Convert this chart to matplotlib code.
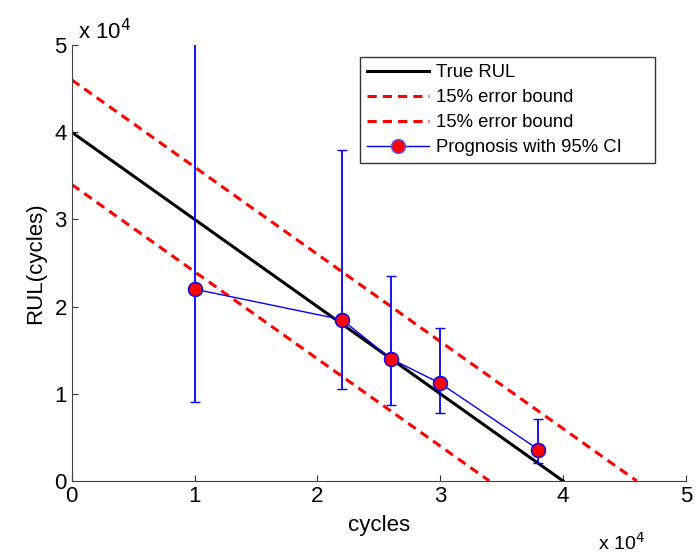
import matplotlib
matplotlib.use("Agg")
import matplotlib.pyplot as plt
from matplotlib.lines import Line2D
import numpy as np

plt.rcParams['font.family'] = ['Liberation Sans', 'DejaVu Sans']

# Data
true_x = [0, 40000]
true_y = [40000, 0]
upper_x = [0, 46000]
upper_y = [46000, 0]
lower_x = [0, 34000]
lower_y = [34000, 0]
prog_x = [10000, 22000, 26000, 30000, 38000]
prog_y = [22000, 18500, 14000, 11200, 3600]
ci_low = [9000, 10500, 8700, 7800, 2050]
ci_high = [55000, 38000, 23500, 17500, 7100]
tick_vals = [0, 1, 2, 3, 4, 5]
legend_labels = ['True RUL', '15% error bound', '15% error bound', 'Prognosis with 95% CI']

fig = plt.figure(figsize=(6.97, 5.56), dpi=100)
ax = fig.add_axes([0.103, 0.135, 0.881, 0.784])

h1, = ax.plot(true_x, true_y, color='black', lw=2.2)
h2, = ax.plot(upper_x, upper_y, color='red', lw=2.2, ls=(0, (3, 2)))
h3, = ax.plot(lower_x, lower_y, color='red', lw=2.2, ls=(0, (3, 2)))

yerr = [np.array(prog_y) - np.array(ci_low), np.array(ci_high) - np.array(prog_y)]
ax.errorbar(prog_x, prog_y, yerr=yerr, color='blue', lw=1, elinewidth=1.3,
            capsize=3.5, capthick=1.3, marker='o', markersize=10,
            markerfacecolor='red', markeredgecolor='blue', markeredgewidth=1)
ax.plot(prog_x, prog_y, ls='none', marker='o', markersize=10,
        markerfacecolor='red', markeredgecolor='#5555ff', markeredgewidth=1)
h4 = Line2D([], [], color='blue', lw=1, marker='o', markersize=10,
            markerfacecolor='red', markeredgecolor='#5555ff', markeredgewidth=1)

ax.set_xlim(0, 50000)
ax.set_ylim(0, 50000)
ax.set_xticks([v * 10000 for v in tick_vals])
ax.set_yticks([v * 10000 for v in tick_vals])
ax.set_xticklabels([str(v) for v in tick_vals], fontsize=16)
ax.set_yticklabels([str(v) for v in tick_vals], fontsize=16)
ax.tick_params(direction='in', length=4, width=0.8, color='#333333')
ax.spines['top'].set_visible(False)
ax.spines['right'].set_visible(False)
ax.spines['left'].set_color('#444444')
ax.spines['bottom'].set_color('#444444')

ax.set_xlabel('cycles', fontsize=16, labelpad=6)
ax.set_ylabel('RUL(cycles)', fontsize=16, labelpad=6)

fig.text(0.858, 0.012, r'x 10$^4$', fontsize=14)
fig.text(0.112, 0.93, r'x 10$^4$', fontsize=16)

labels = list(legend_labels)
labels[-1] = labels[-1] + '     '
leg = ax.legend([h1, h2, h3, h4], labels,
                loc='upper right', bbox_to_anchor=(0.9495, 0.9725),
                fontsize=13.3, frameon=True, fancybox=False, edgecolor='black',
                handlelength=3.35, borderpad=0.38, labelspacing=0.44, handletextpad=0.43,
                numpoints=1, borderaxespad=0)
leg.get_frame().set_linewidth(1.0)

fig.savefig('out.png', dpi=100)
